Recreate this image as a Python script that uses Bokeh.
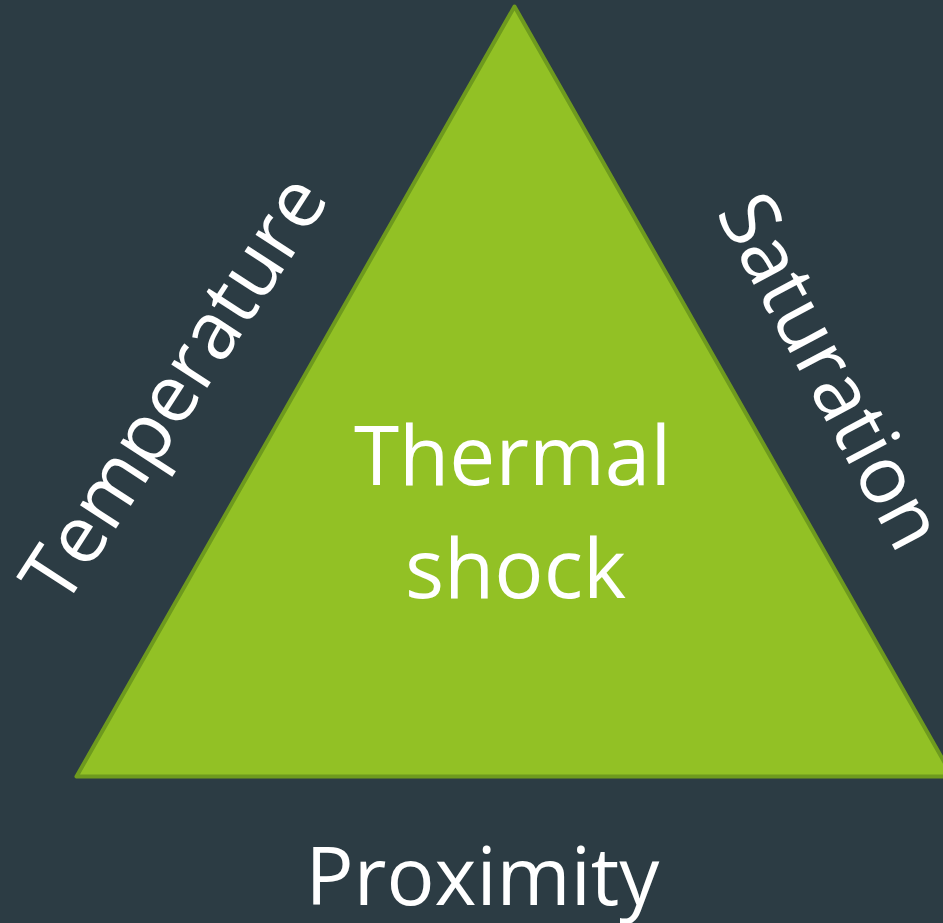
import math
from bokeh.plotting import figure
from bokeh.models import Range1d, ColumnDataSource
from bokeh.core.properties import value
from bokeh.embed import file_html
from bokeh.resources import INLINE

# ---- diagram data (reference pixel space, y measured from top) ----
tri_x = [514, 76, 952]
tri_y = [6, 776, 776]

centre_labels = ["Thermal", "shock"]
centre_x = [512, 515]
centre_y = [452, 565]

bottom_label = ["Proximity"]
bottom_x = [482]
bottom_y = [873]

side_labels = ["Temperature", "Saturation"]
side_x = [170, 834]
side_y = [386, 369]
side_angle_deg = [57, -62]

BG = "#2c3c44"
GREEN = "#92c125"
EDGE = "#6e9a1e"
H = 923  # reference height, used to flip y

W_FIG, H_FIG = 943, 923
p = figure(width=W_FIG, height=H_FIG, output_backend="svg", toolbar_location=None,
           x_range=Range1d(0, W_FIG), y_range=Range1d(0, H_FIG),
           min_border=0)
p.axis.visible = False
p.grid.visible = False
p.outline_line_color = None
p.background_fill_color = BG
p.border_fill_color = BG

p.patch(x=tri_x, y=[H - v for v in tri_y], fill_color=GREEN,
        line_color=EDGE, line_width=4, line_join="round")

src_c = ColumnDataSource(dict(x=centre_x, y=[H - v for v in centre_y], t=centre_labels))
p.text(x="x", y="y", text="t", source=src_c, text_font=value("Open Sans"),
       text_font_size="82px", text_color="white", text_align="center",
       text_baseline="middle")

src_b = ColumnDataSource(dict(x=bottom_x, y=[H - v for v in bottom_y], t=bottom_label))
p.text(x="x", y="y", text="t", source=src_b, text_font=value("Open Sans"),
       text_font_size="80px", text_color="white", text_align="center",
       text_baseline="middle")

src_s = ColumnDataSource(dict(x=side_x, y=[H - v for v in side_y], t=side_labels,
                              a=[math.radians(a) for a in side_angle_deg]))
p.text(x="x", y="y", text="t", angle="a", source=src_s, text_font=value("Open Sans"),
       text_font_size="80px", text_color="white", text_align="center",
       text_baseline="middle")

html = file_html(p, INLINE)
html = html.replace("</head>",
                    "<style>html,body{margin:0;padding:0;overflow:hidden;background:%s;}</style></head>" % BG, 1)
open("out.html", "w").write(html)
